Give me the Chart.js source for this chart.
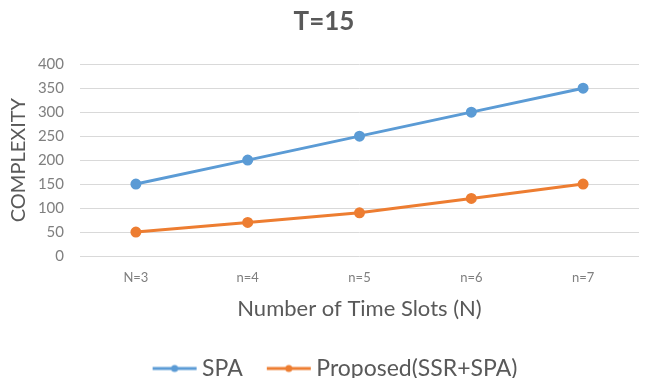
<!DOCTYPE html>
<html><head><meta charset="utf-8">
<script src="https://cdn.jsdelivr.net/npm/chart.js@4/dist/chart.umd.min.js"></script>
<style>html,body{margin:0;padding:0;background:#fff}#wrap{width:646px;height:378px}</style>
</head><body><div id="wrap"><canvas id="c"></canvas></div>
<script>
const categories = ["N=3", "n=4", "n=5", "n=6", "n=7"];
const spaValues = [150, 200, 250, 300, 350];
const proposedValues = [50, 70, 90, 120, 150];
const yTicks = [0, 50, 100, 150, 200, 250, 300, 350, 400];
const seriesNames = ["SPA", "Proposed(SSR+SPA)"];

const FONT = "Lato, 'Open Sans', sans-serif";
// legend icon: line with marker, drawn at the right part of a wider canvas
function legendIcon(color){
  const cv = document.createElement('canvas');
  cv.width = 76; cv.height = 12;
  const g = cv.getContext('2d');
  g.strokeStyle = color; g.lineWidth = 3;
  g.beginPath(); g.moveTo(30,6); g.lineTo(74,6); g.stroke();
  g.fillStyle = color; g.beginPath(); g.arc(52,6,3.5,0,Math.PI*2); g.fill();
  return cv;
}
const blue = '#5B9BD5', orange = '#ED7D31';
new Chart(document.getElementById('c'), {
  type: 'line',
  data: {
    labels: categories,
    datasets: [
      {label: seriesNames[0], data: spaValues, borderColor: blue, backgroundColor: blue, borderWidth: 3, pointRadius: 4, pointHoverRadius: 4, pointStyle: 'circle', tension: 0},
      {label: seriesNames[1], data: proposedValues, borderColor: orange, backgroundColor: orange, borderWidth: 3, pointRadius: 4, pointHoverRadius: 4, pointStyle: 'circle', tension: 0}
    ]
  },
  options: {
    responsive: true, maintainAspectRatio: false, animation: false,
    layout: {padding: {left: 6, right: 4, top: 4, bottom: -12}},
    plugins: {
      title: {display: true, text: 'T=15', color: '#595959', font: {family: FONT, size: 26, weight: 'bold'}, padding: {top: 2, bottom: 27}},
      legend: {position: 'bottom', labels: {usePointStyle: true, pointStyleWidth: 60, color: '#595959', font: {family: FONT, size: 23}, padding: 2,
        generateLabels(chart){
          return chart.data.datasets.map((d,i)=>({text: d.label, fillStyle: d.borderColor, strokeStyle: d.borderColor, lineWidth: 0, pointStyle: legendIcon(d.borderColor), datasetIndex: i, hidden: false, fontColor: '#595959'}));
        }}},
      tooltip: {enabled: false}
    },
    scales: {
      x: {offset: true, grid: {display: false, drawTicks: false}, border: {display: false},
          afterFit(s){ s.height = 99; },
          ticks: {color: '#7f7f7f', font: {family: FONT, size: 13}, padding: 14},
          title: {display: true, text: 'Number of Time Slots (N)', color: '#595959', font: {family: FONT, size: 22}, padding: {top: 0, bottom: 33}}},
      y: {min: 0, max: 400, afterBuildTicks(ax){ ax.ticks = yTicks.map(v=>({value:v})); },
          afterFit(s){ s.width = 74; },
          grid: {color: '#d9d9d9', lineWidth: 1, drawTicks: false}, border: {display: false},
          ticks: {color: '#7f7f7f', font: {family: FONT, size: 15}, padding: 16},
          title: {display: true, text: 'COMPLEXITY', color: '#595959', font: {family: FONT, size: 20}, padding: {top: 1, bottom: 4}}}
    }
  }
});
</script></body></html>
